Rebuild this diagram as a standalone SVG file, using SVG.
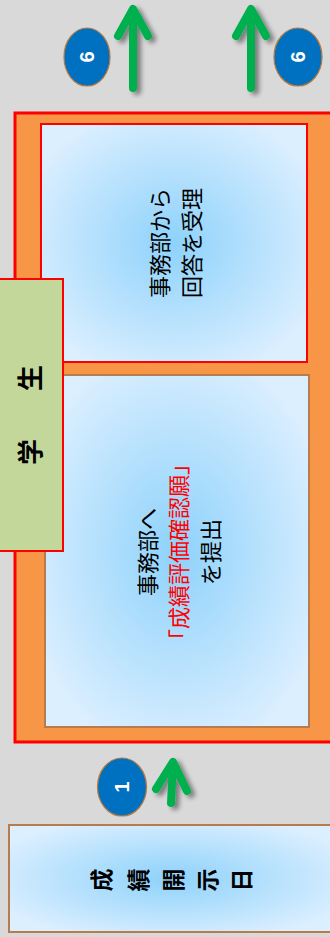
<svg xmlns="http://www.w3.org/2000/svg" width="330" height="937" viewBox="0 0 330 937">
<defs>
<radialGradient id="blue" cx="50%" cy="50%" r="60%">
<stop offset="0" stop-color="#8ed2fb"/>
<stop offset="1" stop-color="#dcefff"/>
</radialGradient>
<filter id="sh" x="-50%" y="-50%" width="200%" height="200%">
<feGaussianBlur in="SourceAlpha" stdDeviation="2.5"/>
<feOffset dx="4" dy="3" result="b"/>
<feComponentTransfer><feFuncA type="linear" slope="0.45"/></feComponentTransfer>
<feMerge><feMergeNode/><feMergeNode in="SourceGraphic"/></feMerge>
</filter>
</defs>
<style>
.jp{font-family:"Noto Sans CJK JP","Noto Sans CJK SC",sans-serif;}
.t{font-size:22px;fill:#000;text-anchor:middle;dominant-baseline:central;}
.r{fill:#ff0000;}
.b{font-weight:bold;}
.num{font-family:"Liberation Sans",Arial,sans-serif;font-size:20px;font-weight:bold;fill:#fff;text-anchor:middle;dominant-baseline:central;}
.circ{fill:#0070c0;stroke:#b8783e;stroke-width:1.2;}
.arr{fill:none;stroke:#00b050;stroke-width:8;stroke-linecap:round;stroke-linejoin:round;}
</style>
<rect width="330" height="937" fill="#d9d9d9"/>

<g id="outer">
<rect x="15" y="113" width="318" height="629" fill="#f79646" stroke="#ff0000" stroke-width="3"/>
</g>

<g id="receive">
<rect x="41" y="124" width="266" height="238" fill="url(#blue)" stroke="#ff0000" stroke-width="2"/>
<g class="jp" transform="translate(174,243) rotate(-90)">
<text class="t" x="0" y="-16">事務部から</text>
<text class="t" x="0" y="16">回答を受理</text>
</g>
</g>

<g id="submit">
<rect x="45" y="375" width="264" height="352" fill="url(#blue)" stroke="#b87c4c" stroke-width="2"/>
<g class="jp" transform="translate(177,552) rotate(-90)">
<text class="t" x="0" y="-31.5">事務部へ</text>
<text class="t r" x="0" y="0">「成績評価確認願」</text>
<text class="t" x="0" y="31.5">を提出</text>
</g>
</g>

<g id="student">
<rect x="-2" y="279" width="65" height="272" fill="#c4d79b" stroke="#ff0000" stroke-width="2"/>
<g class="jp" transform="translate(28,415) rotate(-90)">
<text class="t b" x="-37" y="0" style="font-size:26px">学</text>
<text class="t b" x="37" y="0" style="font-size:26px">生</text>
</g>
</g>

<g id="disclosure">
<rect x="9" y="825" width="325" height="107" fill="url(#blue)" stroke="#b87c4c" stroke-width="2"/>
<g class="jp">
<text class="t b" style="font-size:23px" transform="translate(100,880) rotate(-90)">成</text>
<text class="t b" style="font-size:23px" transform="translate(137,880) rotate(-90)">績</text>
<text class="t b" style="font-size:23px" transform="translate(172,880) rotate(-90)">開</text>
<text class="t b" style="font-size:23px" transform="translate(206,880) rotate(-90)">示</text>
<text class="t b" style="font-size:23px" transform="translate(240,880) rotate(-90)">日</text>
</g>
</g>

<g id="badge6a">
<ellipse class="circ" cx="87" cy="57" rx="23" ry="29"/>
<text class="num" transform="translate(87,57) rotate(-90)">6</text>
</g>
<g id="badge6b">
<ellipse class="circ" cx="298" cy="57" rx="24" ry="29"/>
<text class="num" transform="translate(298,57) rotate(-90)">6</text>
</g>
<g id="badge1">
<ellipse class="circ" cx="122" cy="787" rx="24.5" ry="29"/>
<text class="num" transform="translate(122,787) rotate(-90)">1</text>
</g>

<g id="connectors" filter="url(#sh)">
<path class="arr" d="M133,88 V10 M118,36 L133,9 L148,36"/>
<path class="arr" d="M251,88 V10 M236,36 L251,9 L266,36"/>
<path class="arr" d="M171,803 L173,763 M156,789 L173,762 L187,791"/>
</g>
</svg>
